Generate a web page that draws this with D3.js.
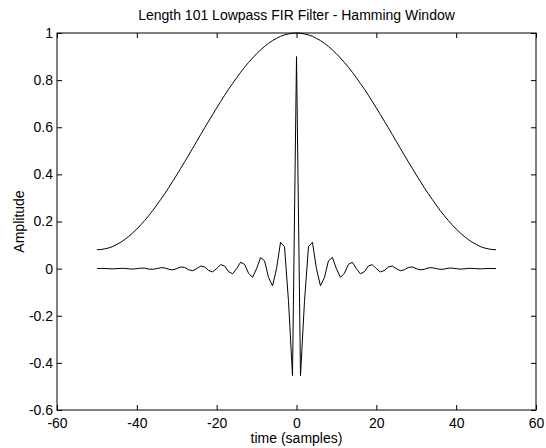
<!DOCTYPE html>
<html>
<head>
<meta charset="utf-8">
<script src="https://cdn.jsdelivr.net/npm/d3@7"></script>
<style>
  body { margin: 0; background: #fff; }
  text { font-family: "Liberation Sans", Arial, Helvetica, sans-serif; fill: #000; }
</style>
</head>
<body>
<div id="chart_container"></div>
<script>
// sample index, -50 .. 50
const sampleTimes = d3.range(-50, 51);

// hamming window values
const windowValues = [
  0.080,0.081,0.084,0.088,0.094,0.103,0.112,0.124,0.137,0.152,
  0.168,0.186,0.205,0.225,0.247,0.270,0.294,0.318,0.344,0.371,
  0.398,0.426,0.454,0.482,0.511,0.540,0.569,0.598,0.626,0.654,
  0.682,0.709,0.736,0.762,0.786,0.810,0.833,0.855,0.875,0.894,
  0.912,0.928,0.943,0.956,0.968,0.977,0.986,0.992,0.996,0.999,
  1.000,
  0.999,0.996,0.992,0.986,0.977,0.968,0.956,0.943,0.928,0.912,
  0.894,0.875,0.855,0.833,0.810,0.786,0.762,0.736,0.709,0.682,
  0.654,0.626,0.598,0.569,0.540,0.511,0.482,0.454,0.426,0.398,
  0.371,0.344,0.318,0.294,0.270,0.247,0.225,0.205,0.186,0.168,
  0.152,0.137,0.124,0.112,0.103,0.094,0.088,0.084,0.081,0.080
];

// filter impulse response values
const filterValues = [
  0,0.0008,0.0005,-0.0005,-0.001,0,0.001,0.001,-0.001,-0.002,
  0,0.002,0.002,-0.002,-0.003,0,0.004,0.003,-0.003,-0.005,
  0,0.007,0.005,-0.005,-0.009,0,0.011,0.007,-0.008,-0.014,
  0,0.017,0.011,-0.013,-0.022,0,0.027,0.018,-0.020,-0.037,
  0,0.047,0.033,-0.038,-0.073,0,0.112,0.093,-0.140,-0.454,
  0.9,
  -0.454,-0.140,0.093,0.112,0,-0.073,-0.038,0.033,0.047,0,
  -0.037,-0.020,0.018,0.027,0,-0.022,-0.013,0.011,0.017,0,
  -0.014,-0.008,0.007,0.011,0,-0.009,-0.005,0.005,0.007,0,
  -0.005,-0.003,0.003,0.004,0,-0.003,-0.002,0.002,0.002,0,
  -0.002,-0.001,0.001,0.001,0,-0.001,-0.0005,0.0005,0.0008,0
];

const xTicks = [-60, -40, -20, 0, 20, 40, 60];
const yTicks = [-0.6, -0.4, -0.2, 0, 0.2, 0.4, 0.6, 0.8, 1];

const titleText = "Length 101 Lowpass FIR Filter - Hamming Window";
const xLabelText = "time (samples)";
const yLabelText = "Amplitude";

//set svg parameters
const width = 546,
  height = 448;
const margin = {top: 33, right: 10, bottom: 38, left: 57};

const svg = d3.select("#chart_container")
  .append("svg")
    .attr("width", width)
    .attr("height", height);

const x = d3.scaleLinear()
  .domain([-60, 60])
  .range([margin.left, width - margin.right]);

const y = d3.scaleLinear()
  .domain([-0.6, 1])
  .range([height - margin.bottom, margin.top]);

const tickLen = 5;
const fontSize = 14;
// plain hyphen minus like the original, not the unicode minus d3 uses
const plainFormat = d => String(d);

// axes, matlab style: ticks inside on all four sides
svg.append("g")
  .attr("transform", `translate(0,${y(-0.6)})`)
  .call(d3.axisBottom(x).tickValues(xTicks).tickSizeInner(-tickLen).tickSizeOuter(0).tickPadding(8).tickFormat(plainFormat))
  .call(g => g.select(".domain").remove())
  .selectAll("text").style("font-size", fontSize + "px");

svg.append("g")
  .attr("transform", `translate(0,${y(1)})`)
  .call(d3.axisTop(x).tickValues(xTicks).tickSizeInner(-tickLen).tickSizeOuter(0).tickFormat(""))
  .call(g => g.select(".domain").remove());

svg.append("g")
  .attr("transform", `translate(${x(-60)},0)`)
  .call(d3.axisLeft(y).tickValues(yTicks).tickSizeInner(-tickLen).tickSizeOuter(0).tickPadding(4).tickFormat(plainFormat))
  .call(g => g.select(".domain").remove())
  .selectAll("text").style("font-size", fontSize + "px");

svg.append("g")
  .attr("transform", `translate(${x(60)},0)`)
  .call(d3.axisRight(y).tickValues(yTicks).tickSizeInner(-tickLen).tickSizeOuter(0).tickFormat(""))
  .call(g => g.select(".domain").remove());

svg.selectAll(".tick line").attr("stroke", "#000");

// box
svg.append("rect")
  .attr("x", x(-60))
  .attr("y", y(1))
  .attr("width", x(60) - x(-60))
  .attr("height", y(-0.6) - y(1))
  .attr("fill", "none")
  .attr("stroke", "#000")
  .attr("stroke-width", 1);

// lines
const line = d3.line()
  .x((d, i) => x(sampleTimes[i]))
  .y(d => y(d));

svg.append("path")
  .datum(windowValues)
  .attr("d", line)
  .attr("fill", "none")
  .attr("stroke", "#000")
  .attr("stroke-width", 1);

svg.append("path")
  .datum(filterValues)
  .attr("d", line)
  .attr("fill", "none")
  .attr("stroke", "#000")
  .attr("stroke-width", 1);

// title and labels
svg.append("text")
  .attr("x", (x(-60) + x(60)) / 2)
  .attr("y", 20)
  .attr("text-anchor", "middle")
  .style("font-size", fontSize + "px")
  .text(titleText);

svg.append("text")
  .attr("x", (x(-60) + x(60)) / 2)
  .attr("y", 443)
  .attr("text-anchor", "middle")
  .style("font-size", fontSize + "px")
  .text(xLabelText);

svg.append("text")
  .attr("transform", `translate(24,${(y(1) + y(-0.6)) / 2}) rotate(-90)`)
  .attr("text-anchor", "middle")
  .style("font-size", fontSize + "px")
  .text(yLabelText);
</script>
</body>
</html>
